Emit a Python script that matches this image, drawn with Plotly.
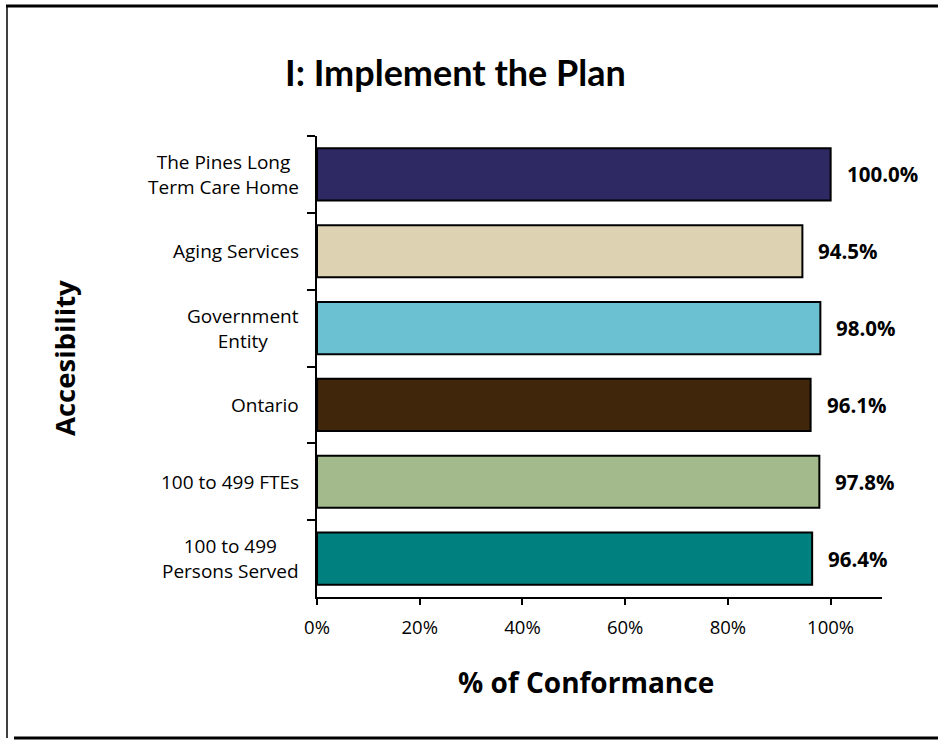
import plotly.graph_objects as go

categories = ["The Pines Long<br>Term Care Home", "Aging Services", "Government<br>Entity",
              "Ontario", "100 to 499 FTEs", "100 to 499<br>Persons Served"]
values = [1.000, 0.945, 0.980, 0.961, 0.978, 0.964]
colors = ["#2E2963", "#DDD3B2", "#6BC1D1", "#40260A", "#A2BA8C", "#00807E"]
x_ticks = [0, 0.2, 0.4, 0.6, 0.8, 1.0]
x_ticklabels = ["0%", "20%", "40%", "60%", "80%", "100%"]

FONT = "Open Sans"
W, H = 938, 740
L, R, T, B = 317, 56, 136, 143
pw = W - L - R
ph = H - T - B

fig = go.Figure()
fig.add_trace(go.Bar(
    y=categories, x=values, orientation="h",
    marker=dict(color=colors, line=dict(color="black", width=2)),
    width=0.68, hoverinfo="skip",
))

# data labels
for c, v in zip(categories, values):
    fig.add_annotation(x=v, y=c, xref="x", yref="y", text=f"<b>{v*100:.1f}%</b>",
                       showarrow=False, xanchor="left", yanchor="middle", xshift=14,
                       font=dict(family=FONT, size=20.5, color="black"))

# category labels (centered multi-line)
for c in categories:
    fig.add_annotation(x=0, y=c, xref="paper", yref="y", text=c, showarrow=False,
                       xanchor="right", yanchor="middle", xshift=-16, align="center",
                       font=dict(family=FONT, size=19, color="black"))

def px_x(p):
    return (p - L) / pw

def px_y(p):
    return 1 - (p - T) / ph

# title
fig.add_annotation(x=px_x(455), y=px_y(72), xref="paper", yref="paper",
                   xanchor="center", yanchor="middle",
                   text="<b>I: Implement the Plan</b>", showarrow=False,
                   font=dict(family="Lato", size=36, color="black"))
# axis titles
fig.add_annotation(x=px_x(586), y=px_y(682), xref="paper", yref="paper",
                   xanchor="center", yanchor="middle",
                   text="<b>% of Conformance</b>", showarrow=False,
                   font=dict(family=FONT, size=28, color="black"))
fig.add_annotation(x=px_x(64), y=px_y(358), xref="paper", yref="paper",
                   xanchor="center", yanchor="middle",
                   text="<b>Accesibility</b>", showarrow=False, textangle=-90,
                   font=dict(family=FONT, size=27.5, color="black"))

# frame
fig.add_shape(type="line", xref="paper", yref="paper", x0=px_x(7), x1=px_x(7),
              y0=px_y(5), y1=px_y(738), line=dict(color="black", width=1.5))
fig.add_shape(type="line", xref="paper", yref="paper", x0=px_x(6), x1=px_x(940),
              y0=px_y(6), y1=px_y(6), line=dict(color="black", width=3))
fig.add_shape(type="line", xref="paper", yref="paper", x0=px_x(14), x1=px_x(940),
              y0=px_y(738), y1=px_y(738), line=dict(color="black", width=3))

fig.update_layout(
    width=W, height=H,
    margin=dict(l=L, r=R, t=T, b=B),
    paper_bgcolor="white", plot_bgcolor="white",
    showlegend=False,
    font=dict(family=FONT, size=16, color="black"),
    xaxis=dict(range=[0, 1.1], tickvals=x_ticks, ticktext=x_ticklabels,
               showgrid=False, zeroline=False, showline=True, linecolor="black",
               linewidth=2, ticks="outside", ticklen=6, tickwidth=2, tickcolor="black",
               ticklabelstandoff=7,
               tickfont=dict(family=FONT, size=18.5, color="black"), fixedrange=True),
    yaxis=dict(autorange="reversed", showgrid=False, zeroline=False, showline=True,
               linecolor="black", linewidth=2, ticks="outside", ticklen=8, tickwidth=2,
               tickcolor="black", tickson="boundaries", showticklabels=False,
               fixedrange=True),
)

fig.write_html("out.html")
